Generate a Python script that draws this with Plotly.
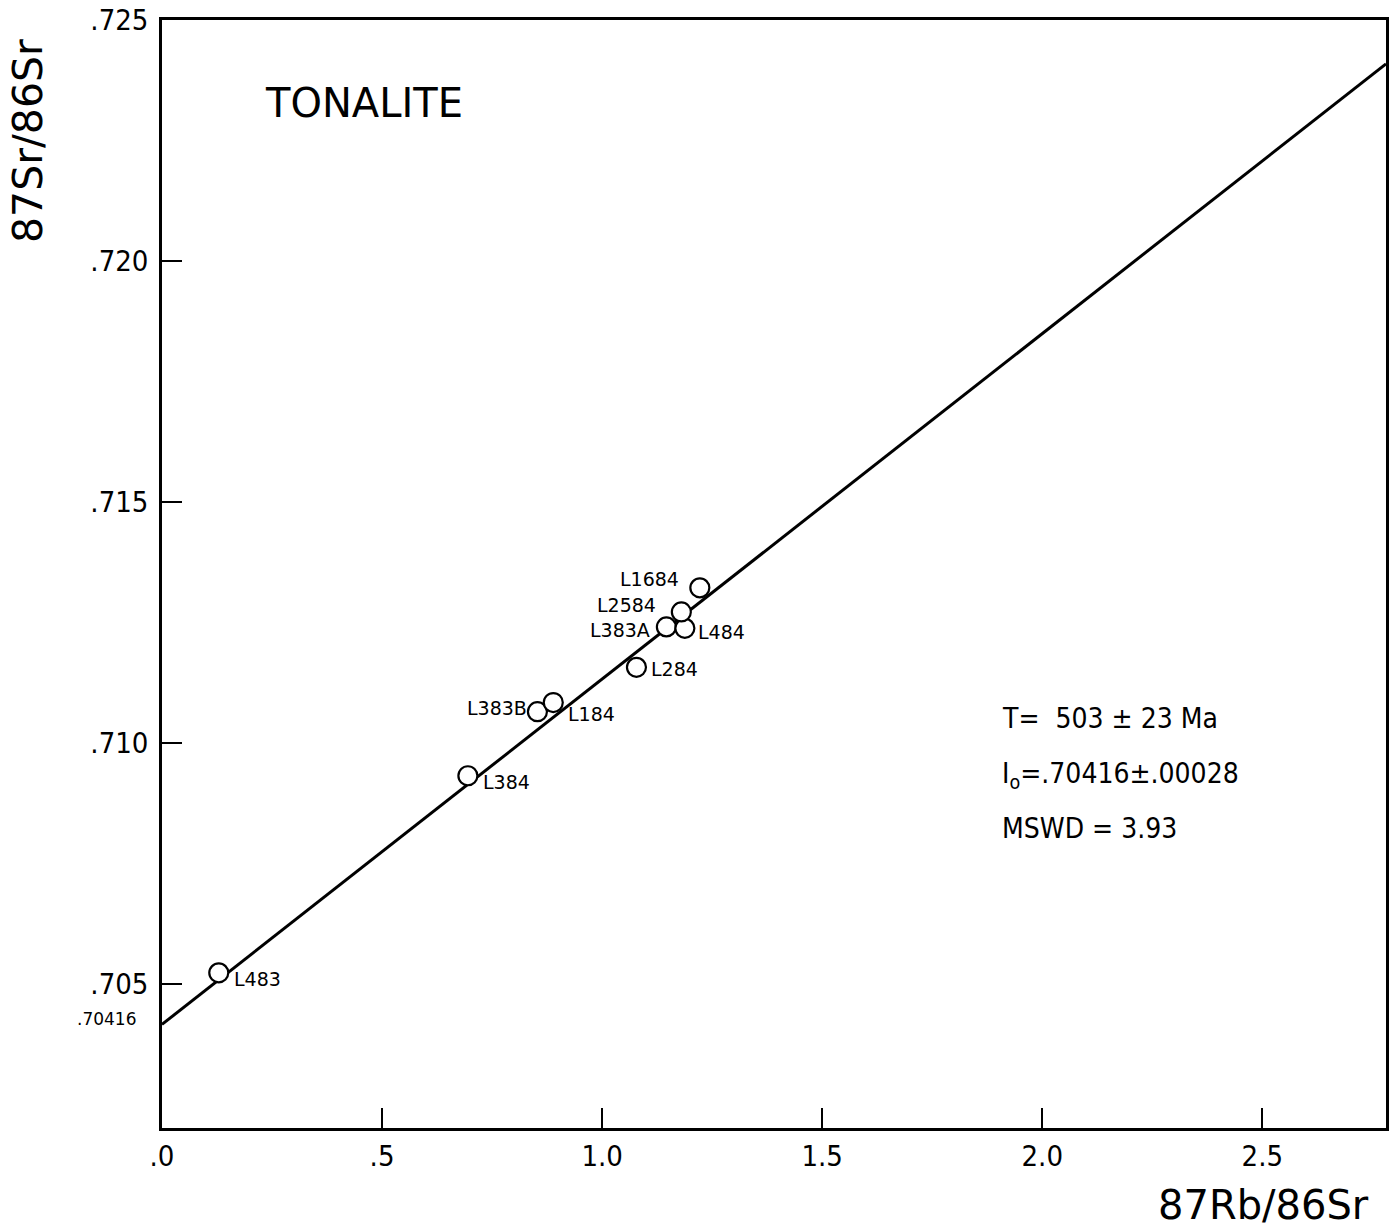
import math
import plotly.graph_objects as go

# Whole-rock Rb-Sr analyses, tonalite samples
samples = ["L483", "L384", "L383B", "L184", "L284", "L383A", "L484", "L2584", "L1684"]
rb_sr = [0.129, 0.695, 0.853, 0.889, 1.078, 1.146, 1.188, 1.180, 1.222]
sr_sr = [0.70523, 0.70932, 0.71065, 0.71084, 0.71157, 0.71241, 0.71238, 0.71272, 0.71322]

# Isochron parameters
age_ma = 503
initial_ratio = 0.70416
decay_const = 1.42e-11
slope = math.exp(decay_const * age_ma * 1e6) - 1.0

x_range = [0.0, 2.781]
y_range = [0.70201, 0.725005]

x_ticks = [0.0, 0.5, 1.0, 1.5, 2.0, 2.5]
x_tick_text = [".0", ".5", "1.0", "1.5", "2.0", "2.5"]
y_ticks = [0.705, 0.710, 0.715, 0.720, 0.725]
y_tick_text = [".705", ".710", ".715", ".720", ".725"]

# label placement around each symbol: (xanchor, xshift, yshift)
label_pos = {
    "L483": ("left", 13, -6),
    "L384": ("left", 13, -6),
    "L383B": ("right", -8, 4),
    "L184": ("left", 13, -11),
    "L284": ("left", 13, -2),
    "L383A": ("right", -14, -3),
    "L484": ("left", 11, -4),
    "L2584": ("right", -23, 7),
    "L1684": ("right", -19, 9),
}

narrow = "DejaVu Sans Condensed, DejaVu Sans, sans-serif"
label_font = dict(family="DejaVu Sans", size=19, color="black")
tick_font = dict(family=narrow, size=29, color="black")
stats_font = dict(family=narrow, size=28, color="black")

fig = go.Figure()

line_x = [x_range[0], x_range[1]]
line_y = [initial_ratio + slope * v for v in line_x]
fig.add_trace(go.Scatter(
    x=line_x, y=line_y, mode="lines",
    line=dict(color="black", width=3),
    hoverinfo="skip", showlegend=False,
))

fig.add_trace(go.Scatter(
    x=rb_sr, y=sr_sr, mode="markers",
    marker=dict(symbol="circle", size=19, color="white",
                line=dict(color="black", width=2.2)),
    text=samples, showlegend=False,
))

annotations = []
for name, xv, yv in zip(samples, rb_sr, sr_sr):
    anchor, dx, dy = label_pos[name]
    annotations.append(dict(
        x=xv, y=yv, xref="x", yref="y", text=name, showarrow=False,
        xanchor=anchor, yanchor="middle", xshift=dx, yshift=dy, font=label_font,
    ))

annotations += [
    dict(x=0.23, y=0.72328, xref="x", yref="y", text="TONALITE", showarrow=False,
         xanchor="left", yanchor="middle", font=dict(family="DejaVu Sans", size=40, color="black")),
    dict(x=1.905, y=0.7105, xref="x", yref="y", text="T=  503 ± 23 Ma", showarrow=False,
         xanchor="left", yanchor="middle", font=stats_font),
    dict(x=1.905, y=0.70932, xref="x", yref="y", text="I<sub>o</sub>=.70416±.00028", showarrow=False,
         xanchor="left", yanchor="middle", font=stats_font),
    dict(x=1.905, y=0.70823, xref="x", yref="y", text="MSWD = 3.93", showarrow=False,
         xanchor="left", yanchor="middle", font=stats_font),
    dict(x=0, y=initial_ratio, xref="paper", yref="y", text=".70416", showarrow=False,
         xanchor="right", yanchor="middle", xshift=-24, yshift=5,
         font=dict(family="DejaVu Sans", size=17, color="black")),
    dict(x=1, y=0, xref="paper", yref="paper", text="87Rb/86Sr", showarrow=False,
         xanchor="right", yanchor="middle", xshift=-15, yshift=-77,
         font=dict(family="DejaVu Sans", size=40, color="black")),
    dict(x=0, y=1, xref="paper", yref="paper", text="87Sr/86Sr", showarrow=False,
         textangle=-90, xanchor="center", yanchor="middle", xshift=-134, yshift=-121,
         font=dict(family="DejaVu Sans", size=41, color="black")),
]

fig.update_layout(
    width=1399, height=1232,
    margin=dict(l=162, r=13, t=20, b=104, autoexpand=False),
    paper_bgcolor="white", plot_bgcolor="white",
    annotations=annotations,
    showlegend=False,
)
fig.update_xaxes(
    range=x_range, tickvals=x_ticks, ticktext=x_tick_text,
    ticks="inside", ticklen=20, tickwidth=2, tickcolor="black",
    showline=True, linecolor="black", linewidth=2.5, mirror=True,
    showgrid=False, zeroline=False, tickfont=tick_font, ticklabelstandoff=0,
    automargin=False,
)
fig.update_yaxes(
    range=y_range, tickvals=y_ticks, ticktext=y_tick_text,
    ticks="inside", ticklen=20, tickwidth=2, tickcolor="black",
    showline=True, linecolor="black", linewidth=2.5, mirror=True,
    showgrid=False, zeroline=False, tickfont=tick_font, ticklabelstandoff=5,
    automargin=False,
)

fig.write_html("out.html")
